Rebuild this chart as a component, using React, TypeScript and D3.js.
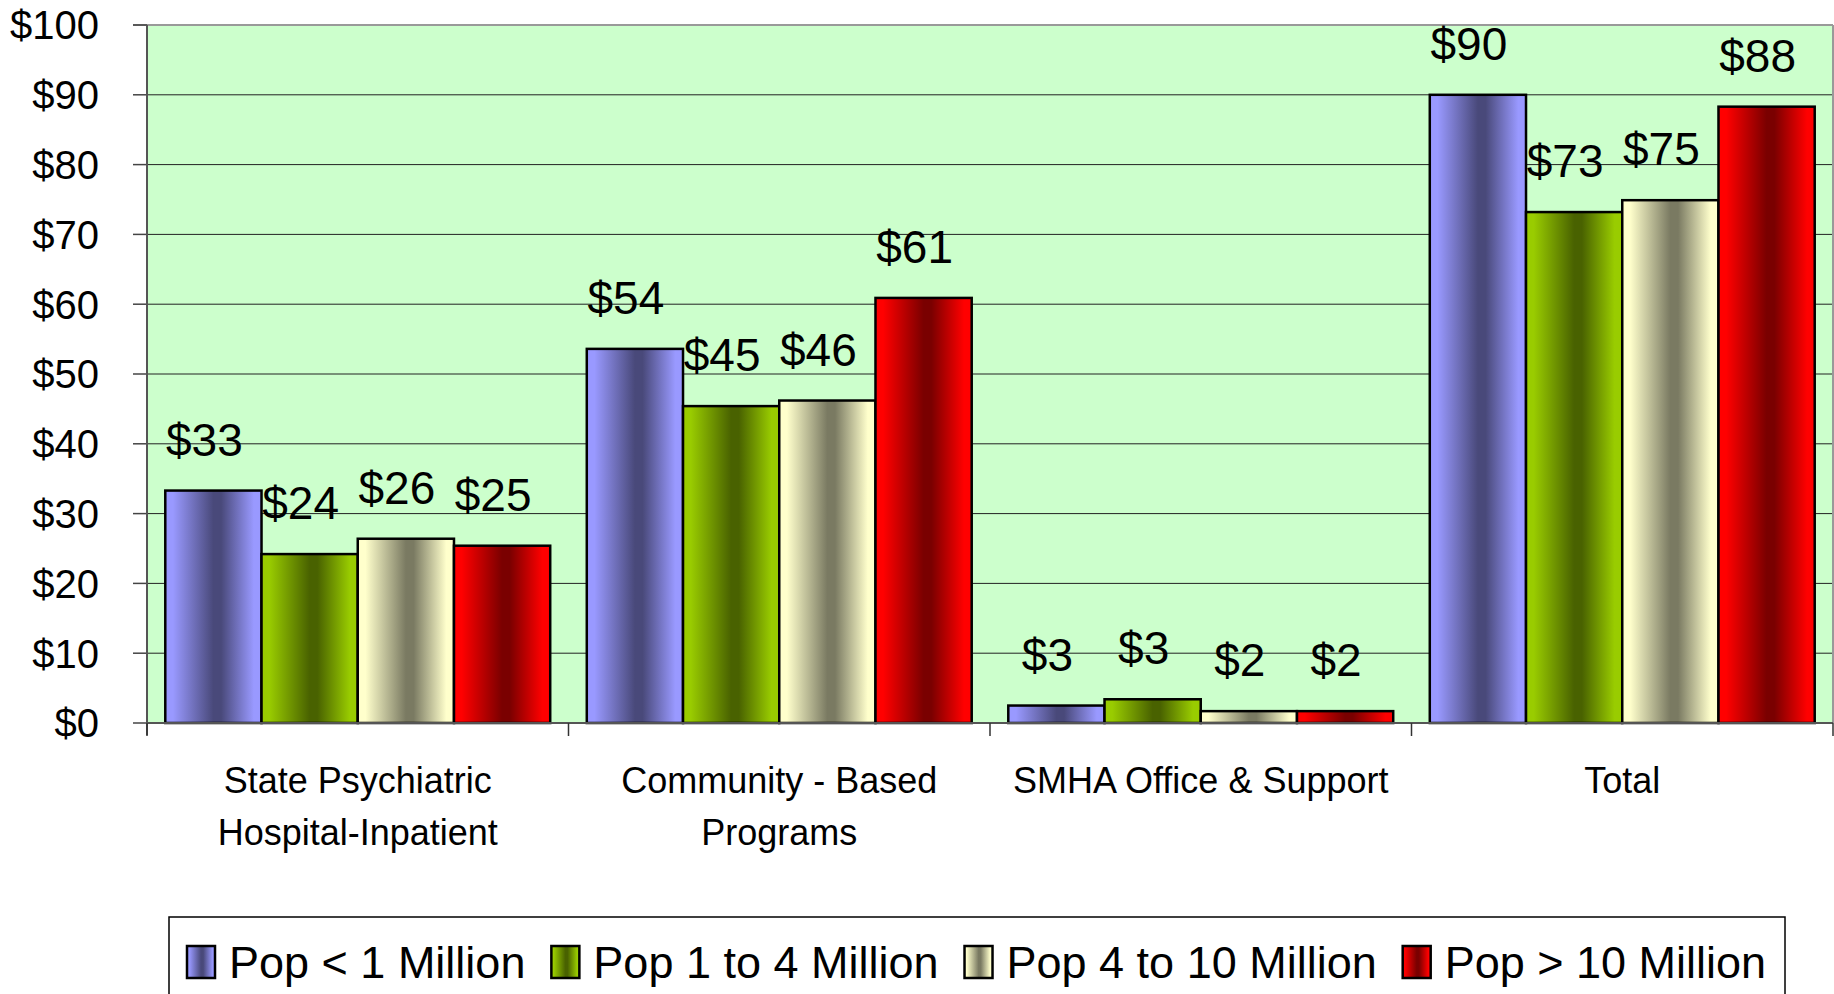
import React from "react";
import * as d3 from "d3";

const categories = [
  "State Psychiatric\nHospital-Inpatient",
  "Community - Based\nPrograms",
  "SMHA Office & Support",
  "Total",
];
const seriesNames = ["Pop < 1 Million", "Pop 1 to 4 Million", "Pop 4 to 10 Million", "Pop > 10 Million"];
const popUnder1 = [33.3, 53.6, 2.5, 90.0];
const pop1to4 = [24.2, 45.4, 3.4, 73.2];
const pop4to10 = [26.4, 46.2, 1.7, 74.9];
const popOver10 = [25.4, 60.9, 1.7, 88.3];
const yTicks = [0, 10, 20, 30, 40, 50, 60, 70, 80, 90, 100];
const seriesValues = [popUnder1, pop1to4, pop4to10, popOver10];
const baseColors = ["#9999ff", "#99cc00", "#ffffcc", "#ff0000"];

const W = 1834;
const H = 994;
const FONT = "'Liberation Sans', Arial, sans-serif";

export default function App() {
  const left = 147;
  const right = 1833;
  const top = 25;
  const bottom = 723;

  const x = d3.scaleBand<string>().domain(categories).range([left, right]).paddingInner(0).paddingOuter(0);
  const xs = d3.scaleBand<string>().domain(seriesNames).range([0, x.bandwidth()]).paddingInner(0).paddingOuter(0.19);
  const y = d3.scaleLinear().domain([0, 100]).range([bottom, top]);

  const dark = (c: string) => {
    const col = d3.rgb(c);
    return d3.rgb(col.r * 0.48, col.g * 0.48, col.b * 0.48).formatHex();
  };

  const boundaries = categories.map((c) => x(c)!).concat([right]);

  // legend layout
  const legendFont = 45;
  const charW = (s: string) => {
    // approximate Arial metrics
    const m: Record<string, number> = { P: 0.667, o: 0.556, p: 0.556, " ": 0.278, "<": 0.584, ">": 0.584, M: 0.833, i: 0.222, l: 0.222, n: 0.556, t: 0.278 };
    let w = 0;
    for (const ch of s) w += (m[ch] ?? 0.556) * legendFont;
    return w;
  };
  let lx = 187;
  const legendItems = seriesNames.map((name, i) => {
    const item = { name, i, sx: lx, tx: lx + 42 };
    lx = lx + 42 + charW(name) + 26;
    return item;
  });

  return (
    <svg
      width={W}
      height={H}
      style={{ position: "absolute", left: 0, top: 0, display: "block", background: "#fff" }}
      fontFamily={FONT}
    >
      <defs>
        {baseColors.map((c, i) => (
          <linearGradient key={i} id={`g${i}`} x1="0" x2="1" y1="0" y2="0">
            <stop offset="0" stopColor={c} />
            <stop offset="0.08" stopColor={c} />
            <stop offset="0.5" stopColor={dark(c)} />
            <stop offset="0.58" stopColor={dark(c)} />
            <stop offset="0.92" stopColor={c} />
            <stop offset="1" stopColor={c} />
          </linearGradient>
        ))}
      </defs>

      {/* plot background */}
      <rect x={left} y={top} width={right - left} height={bottom - top} fill="#ccffcc" />

      {/* grid lines */}
      {yTicks
        .filter((t) => t > 0 && t < 100)
        .map((t) => (
          <line key={t} x1={left} x2={right} y1={y(t)} y2={y(t)} stroke="#222" strokeWidth={1} />
        ))}
      {/* top border */}
      <line x1={left - 14} x2={right} y1={top} y2={top} stroke="#999" strokeWidth={2} />
      <line x1={right} x2={right} y1={top} y2={bottom} stroke="#999" strokeWidth={2} />

      {/* y ticks */}
      {yTicks.map((t) => (
        <g key={t}>
          <line x1={left - 14} x2={left} y1={y(t)} y2={y(t)} stroke="#444" strokeWidth={1.5} />
          <text x={99} y={y(t)} dy="0.36em" textAnchor="end" fontSize={40} fill="#000">
            {`$${t}`}
          </text>
        </g>
      ))}

      {/* bars */}
      {categories.map((c, ci) =>
        seriesNames.map((s, si) => {
          const v = seriesValues[si][ci];
          const bx = x(c)! + xs(s)!;
          return (
            <rect
              key={`${ci}-${si}`}
              x={bx}
              y={y(v)}
              width={xs.bandwidth()}
              height={bottom - y(v)}
              fill={`url(#g${si})`}
              stroke="#000"
              strokeWidth={2.5}
            />
          );
        })
      )}

      {/* axes */}
      <line x1={left} x2={right} y1={bottom} y2={bottom} stroke="#555" strokeWidth={2} />
      <line x1={left} x2={left} y1={top} y2={bottom + 12} stroke="#555" strokeWidth={2} />
      {boundaries.map((bx, i) => (
        <line key={i} x1={bx} x2={bx} y1={bottom} y2={bottom + 13} stroke="#333" strokeWidth={1.5} />
      ))}

      {/* value labels */}
      {categories.map((c, ci) =>
        seriesNames.map((s, si) => {
          const v = seriesValues[si][ci];
          const cx = x(c)! + xs(s)! + xs.bandwidth() / 2 - 9;
          return (
            <text key={`l${ci}-${si}`} x={cx} y={y(v) - 35} textAnchor="middle" fontSize={46} fill="#000">
              {`$${Math.round(v)}`}
            </text>
          );
        })
      )}

      {/* category labels */}
      {categories.map((c) => (
        <text key={c} x={x(c)! + x.bandwidth() / 2} y={793} textAnchor="middle" fontSize={36} fill="#000">
          {c.split("\n").map((line, li) => (
            <tspan key={li} x={x(c)! + x.bandwidth() / 2} dy={li === 0 ? 0 : 52}>
              {line}
            </tspan>
          ))}
        </text>
      ))}

      {/* legend */}
      <rect x={169} y={917} width={1616} height={100} fill="#fff" stroke="#000" strokeWidth={1.5} />
      {legendItems.map((it) => (
        <g key={it.name}>
          <rect x={it.sx} y={946} width={28} height={32} fill={`url(#g${it.i})`} stroke="#000" strokeWidth={2.5} />
          <text x={it.tx} y={978} fontSize={legendFont} fill="#000">
            {it.name}
          </text>
        </g>
      ))}
    </svg>
  );
}
